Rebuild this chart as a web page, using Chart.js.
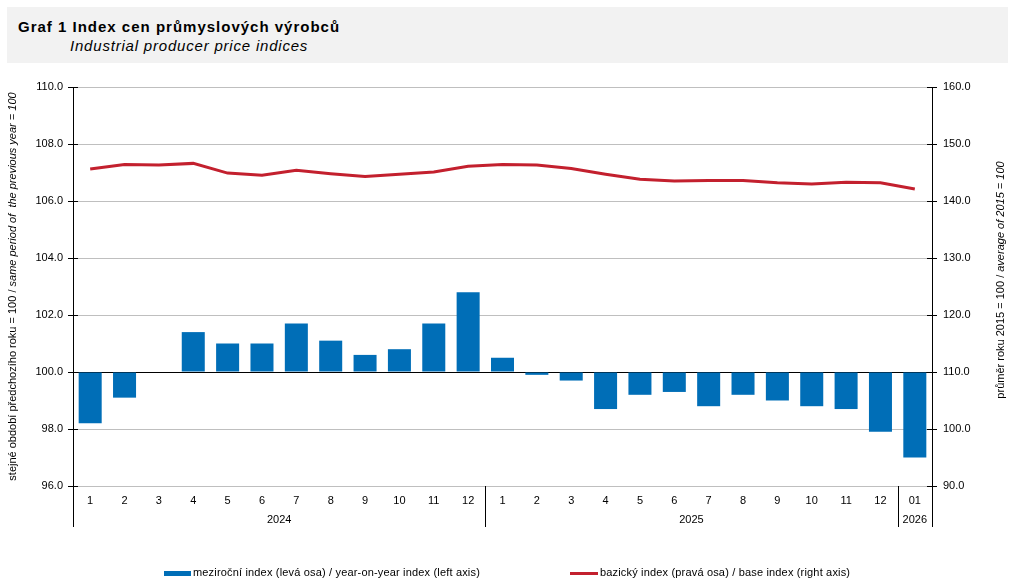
<!DOCTYPE html>
<html lang="cs">
<head>
<meta charset="utf-8">
<title>Index cen průmyslových výrobců</title>
<script src="https://cdn.jsdelivr.net/npm/chart.js@4.4.1/dist/chart.umd.min.js"></script>
<style>
  body { margin: 0; background: #fff; font-family: "Liberation Sans", Arial, sans-serif; }
  #wrap { position: relative; width: 1016px; height: 586px; overflow: hidden; }
  #chart { position: absolute; left: 0; top: 0; }
  .head { position: absolute; left: 7px; top: 7px; width: 1001px; height: 56px; background: #f2f2f2; }
  .head .t1 { position: absolute; left: 11px; top: 11px; font-size: 15px; font-weight: bold; letter-spacing: 1px; color: #000; }
  .head .t2 { position: absolute; left: 63px; top: 30px; font-size: 15px; font-style: italic; letter-spacing: 0.8px; color: #000; }
  .legend { position: absolute; top: 566px; font-size: 11px; letter-spacing: 0.17px; color: #000; white-space: nowrap; }
  .legend .sw { display: inline-block; vertical-align: middle; margin-right: 2px; }
</style>
</head>
<body>
<div id="wrap">
  <canvas id="chart" width="1016" height="586"></canvas>
  <div class="head">
    <div class="t1">Graf 1 Index cen průmyslových výrobců</div>
    <div class="t2">Industrial producer price indices</div>
  </div>
  <div class="legend" style="left:164px"><span class="sw" style="width:27px;height:5px;background:#006eb7"></span>meziroční index (levá osa) / year-on-year index (left axis)</div>
  <div class="legend" style="left:570px"><span class="sw" style="width:28px;height:3px;background:#c3202e"></span>bazický index (pravá osa) / base index (right axis)</div>
</div>
<script>
// měsíce na ose x a roky pod nimi
const months = ["1", "2", "3", "4", "5", "6", "7", "8", "9", "10", "11", "12",
                "1", "2", "3", "4", "5", "6", "7", "8", "9", "10", "11", "12", "01"];
const years = ["2024", "2025", "2026"];
const yearMonths = [12, 12, 1];

// meziroční index (levá osa), stejné období předchozího roku = 100
const yoyIndex = [98.2, 99.1, 100.0, 101.4, 101.0, 101.0, 101.7, 101.1, 100.6, 100.8, 101.7, 102.8,
                  100.5, 99.9, 99.7, 98.7, 99.2, 99.3, 98.8, 99.2, 99.0, 98.8, 98.7, 97.9, 97.0];

// bazický index (pravá osa), průměr roku 2015 = 100
const baseIndex = [145.6, 146.4, 146.3, 146.6, 144.9, 144.5, 145.4, 144.8, 144.3, 144.7, 145.1, 146.1,
                   146.4, 146.3, 145.7, 144.7, 143.8, 143.5, 143.6, 143.6, 143.2, 143.0, 143.3, 143.2, 142.1];

const leftTicks = [96, 98, 100, 102, 104, 106, 108, 110];
const rightTicks = [90, 100, 110, 120, 130, 140, 150, 160];

const FONT = "'Liberation Sans', Arial, sans-serif";

// roky, oddělovače a popisky os
const decorations = {
  id: "decorations",
  afterDraw(chart) {
    const { ctx, chartArea, scales } = chart;
    const x = scales.x;
    const half = (x.getPixelForValue(1) - x.getPixelForValue(0)) / 2;
    const lowY = chartArea.bottom + 41;

    ctx.save();
    ctx.strokeStyle = "#000";
    ctx.lineWidth = 1;

    // svislé oddělovače skupin a prodloužení os
    let idx = 0;
    const bounds = [x.getPixelForValue(0) - half];
    yearMonths.forEach((n) => {
      idx += n;
      bounds.push(x.getPixelForValue(idx - 1) + half);
    });
    bounds.forEach((bx) => {
      const px = Math.round(bx) + 0.5;
      ctx.beginPath();
      ctx.moveTo(px, chartArea.bottom);
      ctx.lineTo(px, lowY);
      ctx.stroke();
    });

    // křížové značky na osách
    [scales.y, scales.y1].forEach((s) => {
      const edge = s.position === "left" ? chartArea.left : chartArea.right;
      s.ticks.forEach((t, i) => {
        const py = Math.round(s.getPixelForTick(i)) + 0.5;
        ctx.beginPath();
        ctx.moveTo(edge - 5, py);
        ctx.lineTo(edge + 5, py);
        ctx.stroke();
      });
    });

    // roky
    ctx.fillStyle = "#000";
    ctx.font = "11px " + FONT;
    ctx.textAlign = "center";
    ctx.textBaseline = "middle";
    years.forEach((label, i) => {
      ctx.fillText(label, (bounds[i] + bounds[i + 1]) / 2, chartArea.bottom + 34);
    });

    // názvy os se smíšeným řezem písma
    function rotatedTitle(parts, cx, cy) {
      ctx.save();
      ctx.translate(cx, cy);
      ctx.rotate(-Math.PI / 2);
      ctx.textAlign = "left";
      let total = 0;
      parts.forEach((p) => {
        ctx.font = (p.italic ? "italic " : "") + "11px " + FONT;
        p.w = ctx.measureText(p.text).width;
        total += p.w;
      });
      let pos = -total / 2;
      parts.forEach((p) => {
        ctx.font = (p.italic ? "italic " : "") + "11px " + FONT;
        ctx.fillText(p.text, pos, 0);
        pos += p.w;
      });
      ctx.restore();
    }
    rotatedTitle([
      { text: "stejné období předchozího roku = 100 / ", italic: false },
      { text: "same period of  the previous year = 100", italic: true },
    ], 13, (chartArea.top + chartArea.bottom) / 2);
    rotatedTitle([
      { text: "průměr roku 2015 = 100 / ", italic: false },
      { text: "average of 2015 = 100", italic: true },
    ], 1001, 280);

    ctx.restore();
  },
};

const ctx = document.getElementById("chart").getContext("2d");
new Chart(ctx, {
  data: {
    labels: months,
    datasets: [
      {
        type: "line",
        label: "bazický index (pravá osa) / base index (right axis)",
        data: baseIndex,
        yAxisID: "y1",
        borderColor: "#c3202e",
        borderWidth: 3,
        pointRadius: 0,
        tension: 0,
        order: 0,
      },
      {
        type: "bar",
        label: "meziroční index (levá osa) / year-on-year index (left axis)",
        data: yoyIndex,
        yAxisID: "y",
        base: 100,
        backgroundColor: "#006eb7",
        categoryPercentage: 1,
        barPercentage: 0.67,
        order: 1,
      },
    ],
  },
  options: {
    responsive: false,
    animation: false,
    layout: { padding: { top: 87, left: 0, right: 0, bottom: 0 } },
    plugins: {
      legend: { display: false },
      tooltip: { enabled: false },
    },
    scales: {
      x: {
        offset: true,
        grid: { display: false, drawTicks: false },
        border: { display: false },
        ticks: {
          autoSkip: false,
          maxRotation: 0,
          padding: 8,
          color: "#000",
          font: { size: 11, family: FONT },
        },
        afterFit(scale) { scale.height = 100; },
      },
      y: {
        position: "left",
        min: 96,
        max: 110,
        afterBuildTicks(scale) { scale.ticks = leftTicks.map((v) => ({ value: v })); },
        grid: {
          color: (c) => (c.tick && c.tick.value === 100 ? "#000" : "#bfbfbf"),
          lineWidth: 1,
          tickLength: 5,
          tickColor: "#000",
        },
        border: { color: "#000" },
        ticks: {
          padding: 5,
          color: "#000",
          font: { size: 11, family: FONT },
          callback: (v) => Number(v).toFixed(1),
        },
        afterFit(scale) { scale.width = 73; },
      },
      y1: {
        position: "right",
        min: 90,
        max: 160,
        afterBuildTicks(scale) { scale.ticks = rightTicks.map((v) => ({ value: v })); },
        grid: { drawOnChartArea: false, tickLength: 5, tickColor: "#000" },
        border: { color: "#000" },
        ticks: {
          padding: 6,
          color: "#000",
          font: { size: 11, family: FONT },
          callback: (v) => Number(v).toFixed(1),
        },
        afterFit(scale) { scale.width = 84; },
      },
    },
  },
  plugins: [decorations],
});
</script>
</body>
</html>
